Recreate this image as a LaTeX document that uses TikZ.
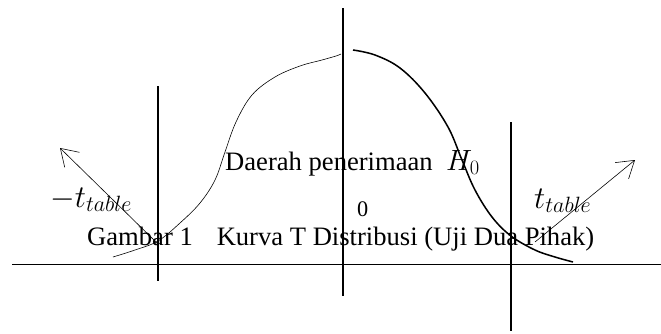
\documentclass[tikz,border=0pt]{standalone}
\usepackage{fix-cm}
\usepackage{amsmath}
\usepackage{fontspec}
\setmainfont{Liberation Serif}
\usetikzlibrary{arrows.meta}

\begin{document}
\begin{tikzpicture}[x=0.03cm,y=-0.03cm,
    bar/.style={line width=1.4pt},
    lbl/.style={anchor=base west, inner sep=0pt, font=\fontsize{22.7}{26}\selectfont},
    mlbl/.style={anchor=base west, inner sep=0pt, font=\fontsize{27}{30}\selectfont},
    pointer/.style={-{Straight Barb[length=14pt,width=18pt]}, line width=0.5pt}]
  \useasboundingbox (0,0) rectangle (661,334);
  % axis and the three vertical bars
  \draw[line width=0.6pt] (12,264) -- (661,264);
  \draw[bar] (158,86) -- (158,281);
  \draw[bar] (343,8) -- (343,296);
  \draw[bar] (511,122) -- (511,331);
  % left half of the curve: thin
  \draw[line width=0.5pt] plot[smooth, tension=0.6] coordinates {(113,257) (135,250) (158,241) (180,223) (200,203) (215,180) (225,152) (236,122) (252,95) (275,77) (300,66) (322,60) (336,56) (341,54)};
  % right half of the curve: thick
  \draw[line width=1.3pt] plot[smooth, tension=0.6] coordinates {(353,50) (375,55) (400,68) (425,93) (448,127) (462,160) (475,190) (492,217) (511,236) (535,250) (555,257) (573,262)};
  % pointers to the critical values
  \coordinate (ltail) at (157,243);
  \coordinate (lhead) at (60,148);
  \coordinate (rtail) at (535,242);
  \coordinate (rhead) at (635,160);
  \draw[pointer] (ltail) -- (lhead);
  \draw[pointer] (rtail) -- (rhead);
  % labels
  \node[mlbl] (tleft) at (50,207) {$-t_{table}$};
  \node[mlbl] (tright) at (534,208) {$t_{table}$};
  \node[lbl] (region) at (225,170) {Daerah penerimaan};
  \node[mlbl, font=\fontsize{25}{28}\selectfont] (hnull) at (446,170) {$H_0$};
  \node[lbl, font=\fontsize{19}{22}\selectfont] (zero) at (357,216) {0};
  \node[lbl] (caption) at (87,245) {Gambar 1\hspace{0.65em} Kurva T Distribusi (Uji Dua Pihak)};
\end{tikzpicture}
\end{document}
